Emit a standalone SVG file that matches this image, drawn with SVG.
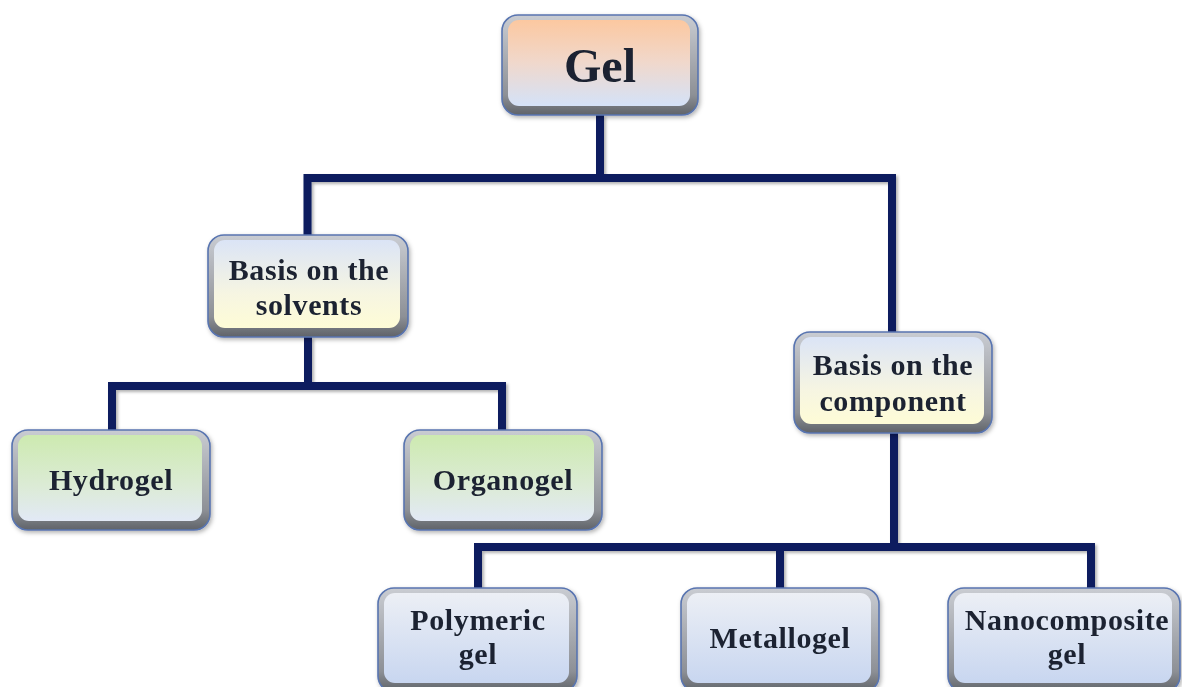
<svg xmlns="http://www.w3.org/2000/svg" width="1182" height="687" viewBox="0 0 1182 687">
<defs>
<linearGradient id="gPeach" x1="0" y1="0" x2="0" y2="1"><stop offset="0" stop-color="#fcc8a0"/><stop offset="0.5" stop-color="#f0d8cc"/><stop offset="1" stop-color="#d4e2f8"/></linearGradient>
<linearGradient id="gYellow" x1="0" y1="0" x2="0" y2="1"><stop offset="0" stop-color="#dbe4f6"/><stop offset="0.6" stop-color="#f6f5e2"/><stop offset="1" stop-color="#fefcd6"/></linearGradient>
<linearGradient id="gGreen" x1="0" y1="0" x2="0" y2="1"><stop offset="0" stop-color="#cdeab0"/><stop offset="0.6" stop-color="#dcebd6"/><stop offset="1" stop-color="#e2e9f6"/></linearGradient>
<linearGradient id="gBlue" x1="0" y1="0" x2="0" y2="1"><stop offset="0" stop-color="#eceff5"/><stop offset="1" stop-color="#c8d6f0"/></linearGradient>
<linearGradient id="bevel" x1="0" y1="0" x2="0" y2="1"><stop offset="0" stop-color="#c9ccd2"/><stop offset="0.8" stop-color="#8d9096"/><stop offset="1" stop-color="#5f6369"/></linearGradient>
<filter id="sh" x="-10%" y="-10%" width="125%" height="130%"><feDropShadow dx="1.5" dy="2" stdDeviation="2" flood-color="#000" flood-opacity="0.3"/></filter>
<filter id="lsh" x="-5%" y="-5%" width="110%" height="110%"><feDropShadow dx="2" dy="2" stdDeviation="1.5" flood-color="#000" flood-opacity="0.3"/></filter>
</defs>
<style>
.conn{fill:none;stroke:#0b1d5e;stroke-width:8;stroke-linejoin:miter;stroke-linecap:butt}
.outer{fill:url(#bevel);stroke:#5874b0;stroke-width:1.6}
.t{font-family:"Liberation Serif","Times New Roman",serif;font-weight:bold;font-size:30px;letter-spacing:0.6px;fill:#1c2430;text-anchor:middle}
.big{font-size:48px;letter-spacing:0}
</style>
<rect width="1182" height="687" fill="#ffffff"/>
<g id="connectors" filter="url(#lsh)">
<path class="conn" d="M600 115 V178 M307.5 237 V178 H892 V334"/>
<path class="conn" d="M308 337 V386 M112 432 V386 H502 V432"/>
<path class="conn" d="M894 433 V547 M478 590 V547 H1091 V590 M780 547 V590"/>
</g>
<g id="n-gel" filter="url(#sh)">
<rect class="outer" x="502" y="15" width="196" height="100" rx="16"/>
<rect x="508" y="20" width="182" height="86" rx="11" fill="url(#gPeach)"/>
<text class="t big" x="600" y="82">Gel</text>
</g>
<g id="n-solvents" filter="url(#sh)">
<rect class="outer" x="208" y="235" width="200" height="102" rx="16"/>
<rect x="214" y="240" width="186" height="88" rx="11" fill="url(#gYellow)"/>
<text class="t" x="309" y="280">Basis on the</text>
<text class="t" x="309" y="315">solvents</text>
</g>
<g id="n-component" filter="url(#sh)">
<rect class="outer" x="794" y="332" width="198" height="101" rx="16"/>
<rect x="800" y="337" width="184" height="87" rx="11" fill="url(#gYellow)"/>
<text class="t" x="893" y="375">Basis on the</text>
<text class="t" x="893" y="411">component</text>
</g>
<g id="n-hydrogel" filter="url(#sh)">
<rect class="outer" x="12" y="430" width="198" height="100" rx="16"/>
<rect x="18" y="435" width="184" height="86" rx="11" fill="url(#gGreen)"/>
<text class="t" x="111" y="490">Hydrogel</text>
</g>
<g id="n-organogel" filter="url(#sh)">
<rect class="outer" x="404" y="430" width="198" height="100" rx="16"/>
<rect x="410" y="435" width="184" height="86" rx="11" fill="url(#gGreen)"/>
<text class="t" x="503" y="490">Organogel</text>
</g>
<g id="n-polymeric" filter="url(#sh)">
<rect class="outer" x="378" y="588" width="199" height="104" rx="16"/>
<rect x="384" y="593" width="185" height="90" rx="11" fill="url(#gBlue)"/>
<text class="t" x="478" y="630">Polymeric</text>
<text class="t" x="478" y="664">gel</text>
</g>
<g id="n-metallogel" filter="url(#sh)">
<rect class="outer" x="681" y="588" width="198" height="104" rx="16"/>
<rect x="687" y="593" width="184" height="90" rx="11" fill="url(#gBlue)"/>
<text class="t" x="780" y="648">Metallogel</text>
</g>
<g id="n-nanocomposite" filter="url(#sh)">
<rect class="outer" x="948" y="588" width="232" height="104" rx="16"/>
<rect x="954" y="593" width="218" height="90" rx="11" fill="url(#gBlue)"/>
<text class="t" x="1067" y="630">Nanocomposite</text>
<text class="t" x="1067" y="664">gel</text>
</g>
</svg>
